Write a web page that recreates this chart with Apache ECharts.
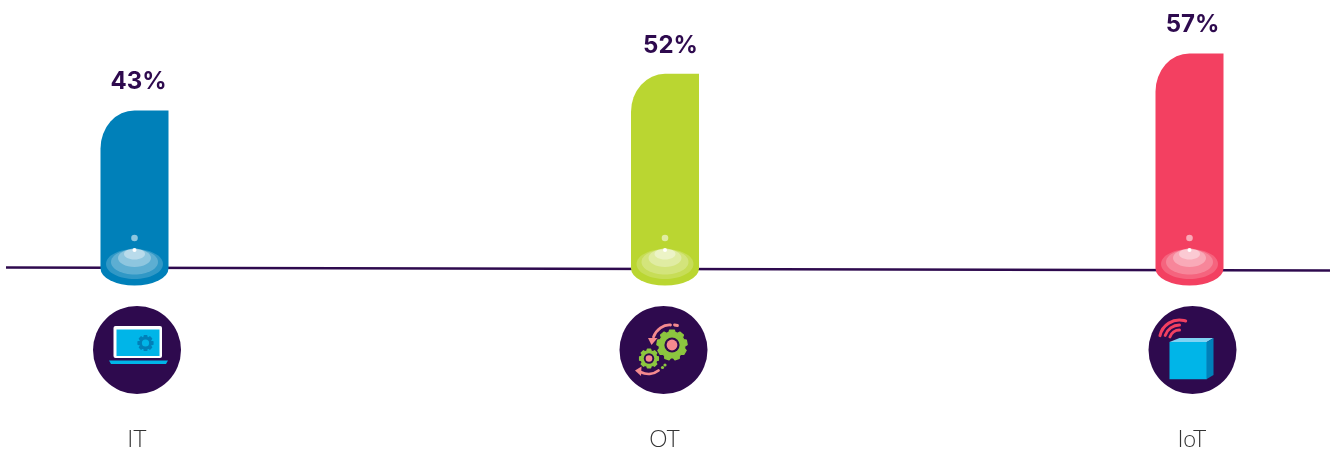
<!DOCTYPE html>
<html>
<head>
<meta charset="utf-8">
<style>html,body{margin:0;padding:0;background:#fff}#c{width:1330px;height:450px}</style>
<script src="https://cdn.jsdelivr.net/npm/echarts@6/dist/echarts.min.js"></script>
</head>
<body>
<div id="c"></div>
<script>
const categories = ['IT', 'OT', 'IoT'];
const shares = [43, 52, 57];
const barColors = ['#0080B9', '#BAD631', '#F34061'];

const INK = '#2E0A4E', CYAN = '#00B5E8', DEEP = '#0080B9', PINK = '#F58A8E', LEAF = '#8CC63F', CORAL = '#F34061';
const barNudge = [-2.5, 0.5, -2.5];
const iconNudge = [0, -1, 0.5];
const labelNudge = [1.5, 6, 0.5];

function gearPath(cx, cy, ro, ri, n) {
  let d = '';
  const step = Math.PI * 2 / n;
  for (let i = 0; i < n; i++) {
    const a = i * step - Math.PI / 2;
    const pts = [[ri, a - step * 0.36], [ro, a - step * 0.22], [ro, a + step * 0.22], [ri, a + step * 0.36]];
    pts.forEach((p, j) => {
      d += (i === 0 && j === 0 ? 'M' : 'L') + (cx + p[0] * Math.cos(p[1])).toFixed(2) + ' ' + (cy + p[0] * Math.sin(p[1])).toFixed(2) + ' ';
    });
  }
  return d + 'Z';
}
const pathEl = (d, style) => ({ type: 'path', shape: { pathData: d }, style });
const gearEl = (cx, cy, ro, ri, n, fill) => pathEl(gearPath(cx, cy, ro, ri, n), { fill, stroke: fill, lineWidth: 1.2, lineJoin: 'round' });
const circ = (cx, cy, r, fill, opacity) => ({ type: 'circle', shape: { cx, cy, r }, style: { fill, opacity: opacity == null ? 1 : opacity } });
const rect = (x, y, width, height, fill, r) => ({ type: 'rect', shape: { x, y, width, height, r: r || 0 }, style: { fill } });
const poly = (points, fill) => ({ type: 'polygon', shape: { points }, style: { fill } });

function laptopIcon(c, y) {
  return [
    rect(c - 23.5, y - 24, 48.5, 32, '#FFFFFF', 2),
    rect(c - 20.5, y - 20.5, 43, 26.5, CYAN),
    pathEl('M' + (c - 28) + ' ' + (y + 10.5) + ' L' + (c + 31) + ' ' + (y + 10.5) + ' L' + (c + 29) + ' ' + (y + 14) + ' L' + (c - 26) + ' ' + (y + 14) + ' Z', { fill: CYAN }),
    gearEl(c + 8.5, y - 7, 7.6, 5.8, 8, DEEP),
    circ(c + 8.5, y - 7, 3.6, CYAN)
  ];
}
function gearsIcon(c, y) {
  const stroke = { stroke: PINK, lineWidth: 2.8, fill: null, lineCap: 'round' };
  return [
    pathEl('M' + (c + 7) + ' ' + (y - 25) + ' C' + (c) + ' ' + (y - 25.5) + ' ' + (c - 7) + ' ' + (y - 21) + ' ' + (c - 10) + ' ' + (y - 13), stroke),
    pathEl('M' + (c + 11) + ' ' + (y - 25) + ' L' + (c + 14) + ' ' + (y - 24.5), stroke),
    poly([[c - 15.5, y - 12], [c - 6, y - 12], [c - 12, y - 5]], PINK),
    gearEl(c + 8.5, y - 5, 15.2, 13, 9, LEAF),
    circ(c + 8.5, y - 5, 7.6, INK),
    circ(c + 8.5, y - 5, 5.4, PINK),
    gearEl(c - 14.5, y + 8.5, 9.6, 7.8, 8, LEAF),
    circ(c - 14.5, y + 8.5, 5.2, INK),
    circ(c - 14.5, y + 8.5, 3.3, PINK),
    pathEl('M' + (c - 5) + ' ' + (y + 20.5) + ' C' + (c - 10) + ' ' + (y + 24.5) + ' ' + (c - 17) + ' ' + (y + 25) + ' ' + (c - 23) + ' ' + (y + 22), stroke),
    poly([[c - 28.5, y + 20.5], [c - 22, y + 16.5], [c - 22.5, y + 26]], PINK),
    circ(c - 1, y + 17.5, 1.6, LEAF),
    circ(c + 1.5, y + 15, 1.6, LEAF)
  ];
}
function cubeIcon(c, y) {
  const wifi = r => ({ type: 'arc', shape: { cx: c - 13, cy: y - 10, r, startAngle: Math.PI * (r > 17 ? 1.07 : 1.1), endAngle: Math.PI * (r > 17 ? 1.6 : 1.5), clockwise: true },
    style: { stroke: CORAL, fill: null, lineWidth: 3, lineCap: 'round' } });
  return [
    wifi(20), wifi(15), wifi(10),
    poly([[c - 23, y - 8], [c - 13, y - 12], [c + 21, y - 12], [c + 14.3, y - 8]], '#7FD3F3'),
    poly([[c + 14.3, y - 8], [c + 21, y - 12], [c + 21, y + 25], [c + 14.3, y + 29]], DEEP),
    rect(c - 23, y - 8, 37.3, 37.3, CYAN)
  ];
}
const iconMakers = [laptopIcon, gearsIcon, cubeIcon];

function renderItem(params, api) {
  const i = api.value(0);
  const top = api.coord([i, api.value(1)]);
  const zero = api.coord([i, 0]);
  const cx = top[0] + barNudge[i];
  const x0 = cx - 34, x1 = cx + 34, rx = 34, ry = 38;
  const yB = zero[1] - 17;
  const d = `M${x0} ${yB} L${x0} ${top[1] + ry} A${rx} ${ry} 0 0 1 ${x0 + rx} ${top[1]} L${x1} ${top[1]} L${x1} ${yB} A34 17 0 0 1 ${x0} ${yB} Z`;
  const ripple = (ry0, erx, ery, o) => ({ type: 'ellipse', shape: { cx, cy: zero[1] - ry0, rx: erx, ry: ery }, style: { fill: '#fff', opacity: o } });
  const iconX = zero[0] + iconNudge[i], iconY = zero[1] + 64.5;
  return {
    type: 'group',
    children: [
      pathEl(d, { fill: barColors[i] }),
      ripple(21.5, 28.5, 15, 0.19),
      ripple(23.5, 23.5, 12.5, 0.22),
      ripple(27.5, 16.5, 9, 0.3),
      ripple(31.5, 10.5, 5.5, 0.38),
      circ(cx, zero[1] - 47.5, 3.3, '#FFFFFF', 0.55),
      circ(cx, zero[1] - 35.5, 2, '#FFFFFF', 1),
      { type: 'text', style: { x: zero[0] + labelNudge[i], y: top[1] - 28.5, text: api.value(1) + '%', fill: INK,
          font: 'bold 24px Inter', textAlign: 'center', textVerticalAlign: 'middle' } },
      circ(iconX, iconY, 44, INK)
    ].concat(iconMakers[i](iconX, iconY))
  };
}

const chart = echarts.init(document.getElementById('c'), null, { renderer: 'canvas' });
chart.setOption({
  animation: false,
  backgroundColor: '#ffffff',
  grid: { left: 137, right: 138, top: 0.5, bottom: 164.5, outerBoundsMode: 'none' },
  xAxis: { type: 'category', data: categories, boundaryGap: false,
    axisLine: { show: false }, axisTick: { show: false }, splitLine: { show: false },
    axisLabel: { margin: 143, color: '#333333', fontFamily: 'Lato', fontWeight: 300, fontSize: 23, interval: 0, verticalAlign: 'top' } },
  yAxis: { type: 'value', min: 0, max: 70, show: false },
  graphic: [{ type: 'line', z: 0, shape: { x1: 6, y1: 267.5, x2: 1330, y2: 270.5 }, style: { stroke: INK, lineWidth: 2.5 } }],
  series: [{ type: 'custom', renderItem, clip: false, z: 5,
    data: shares.map((v, i) => [i, v]),
    encode: { x: 0, y: 1 } }]
});
</script>
</body>
</html>
